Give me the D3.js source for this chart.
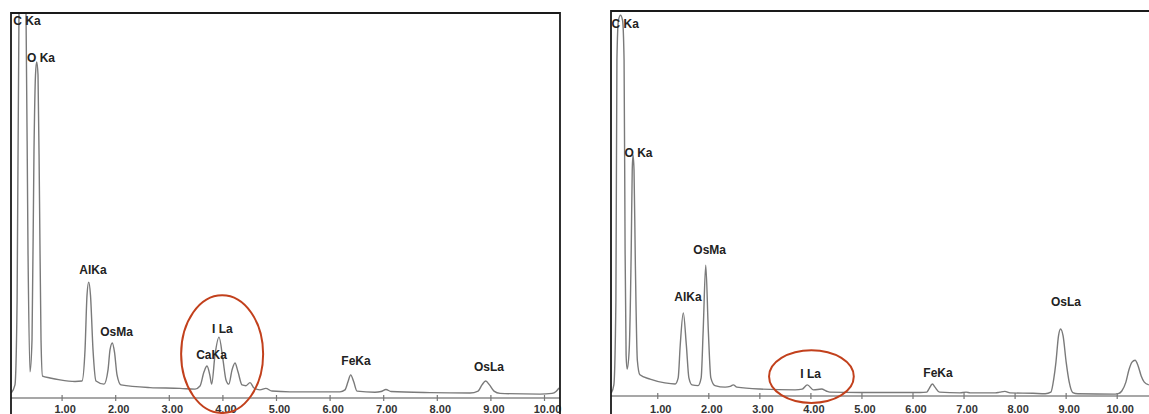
<!DOCTYPE html>
<html>
<head>
<meta charset="utf-8">
<script src="https://cdn.jsdelivr.net/npm/d3@7"></script>
<style>
  body { margin: 0; background: #fff; }
  svg { display: block; font-family: "Liberation Sans", Arial, sans-serif; }
</style>
</head>
<body>
<svg id="chart" width="1149" height="414"></svg>
<script>
// energy axis ticks (keV)
var tickValues = [1, 2, 3, 4, 5, 6, 7, 8, 9, 10];

// left spectrum (keV / counts, frame top = 1000)
var leftEnergy = [0.06, 0.13, 0.17, 0.205, 0.27, 0.336, 0.373, 0.41, 0.448, 0.485, 0.513, 0.535, 0.56, 0.588, 0.616, 0.644,
  0.784, 0.97, 1.25, 1.38, 1.437, 1.474, 1.506, 1.539, 1.586, 1.642, 1.791, 1.866, 1.903, 1.946, 1.987, 2.034, 2.108,
  2.649, 3.209, 3.489, 3.582, 3.657, 3.713, 3.769, 3.80, 3.862, 3.937, 4.011, 4.067, 4.12, 4.18, 4.235, 4.291, 4.366,
  4.44, 4.515, 4.59, 4.70, 4.81, 4.925, 5.26, 6.194, 6.287, 6.343, 6.393, 6.45, 6.511, 6.847, 6.96, 7.052, 7.146,
  7.873, 8.62, 8.77, 8.843, 8.912, 8.983, 9.067, 9.18, 9.925, 10.15, 10.224, 10.28];
var leftCounts = [13, 34, 255, 1000, 1241, 1000, 384, 68, 151, 644, 839, 873, 839, 514, 151, 57,
  52, 47, 43, 44, 125, 267, 301, 267, 125, 44, 36, 73, 125, 143, 119, 60, 34,
  27, 25, 23, 31, 68, 83, 57, 36, 112, 158, 99, 47, 36, 73, 91, 68, 34,
  32, 40, 26, 21, 25, 18, 16, 16, 21, 42, 60, 42, 18, 15, 17, 22, 17,
  14, 13, 18, 34, 44, 34, 18, 12, 10, 12, 17, 26];

// right spectrum
var rightEnergy = [0.10, 0.15, 0.19, 0.21, 0.24, 0.28, 0.32, 0.35, 0.37, 0.39, 0.41, 0.45, 0.49, 0.51, 0.525, 0.545,
  0.57, 0.61, 0.66, 0.86, 1.15, 1.35, 1.41, 1.45, 1.51, 1.57, 1.62, 1.68, 1.80, 1.86, 1.90, 1.95, 2.00, 2.05, 2.13,
  2.33, 2.43, 2.49, 2.56, 3.01, 3.70, 3.84, 3.94, 4.06, 4.22, 4.31, 4.38, 4.97, 6.15, 6.28, 6.32, 6.39, 6.44, 6.53,
  6.93, 7.05, 7.13, 7.62, 7.71, 7.81, 7.91, 8.36, 8.60, 8.71, 8.77, 8.81, 8.86, 8.90, 8.95, 9.01, 9.07, 9.14, 9.24,
  9.97, 10.03, 10.10, 10.18, 10.24, 10.30, 10.36, 10.42, 10.48, 10.54, 10.63];
var rightCounts = [8, 29, 249, 873, 976, 989, 976, 873, 379, 106, 70, 119, 379, 587, 626, 587,
  353, 93, 55, 44, 34, 31, 47, 132, 216, 132, 47, 29, 27, 47, 171, 340, 171, 47, 27,
  23, 25, 29, 23, 18, 16, 18, 29, 16, 18, 13, 10, 9, 9, 10, 18, 31, 23, 10,
  8, 10, 8, 8, 10, 12, 8, 7, 6, 10, 47, 88, 156, 174, 156, 88, 36, 9, 6,
  5, 6, 13, 36, 68, 88, 93, 78, 52, 36, 29];

// peak labels: name, anchor energy, anchor counts (text baseline)
var leftLabels = ["C Ka", "O Ka", "AlKa", "OsMa", "I La", "CaKa", "FeKa", "OsLa"];
var leftLabelE = [0.354, 0.616, 1.586, 2.024, 4.00, 3.797, 6.493, 8.974];
var leftLabelC = [969, 873, 322, 161, 169, 101, 86, 71];

var rightLabels = ["C Ka", "O Ka", "AlKa", "OsMa", "I La", "FeKa", "OsLa"];
var rightLabelE = [0.374, 0.633, 1.602, 2.027, 4.006, 6.50, 9.007];
var rightLabelC = [956, 621, 247, 369, 48, 50, 234];

// highlighted region: [Emin, Emax, countMin, countMax]
var leftCircle = [3.23, 4.76, -39, 267];
var rightCircle = [3.19, 4.85, -18, 119];

var svg = d3.select("#chart");

function panel(opt) {
  var x = d3.scaleLinear().domain([0, 10]).range(opt.xRange);
  var y = d3.scaleLinear().domain([0, 1000]).range([opt.axisY, opt.top]);
  var g = svg.append("g");

  var clipId = "clip" + opt.id;
  svg.append("clipPath").attr("id", clipId)
    .append("rect")
    .attr("x", opt.left).attr("y", opt.top)
    .attr("width", opt.right - opt.left).attr("height", opt.axisY - opt.top);

  // axis line
  g.append("line")
    .attr("x1", opt.left).attr("x2", opt.right)
    .attr("y1", opt.axisY).attr("y2", opt.axisY)
    .attr("stroke", "#8a8a8a").attr("stroke-width", 1.6);

  // ticks and labels
  var axis = d3.axisBottom(x).tickValues(tickValues).tickSize(6).tickFormat(d3.format(".2f"));
  var ax = g.append("g")
    .attr("transform", "translate(0," + (opt.axisY - 3) + ")")
    .call(axis);
  ax.select(".domain").remove();
  ax.selectAll(".tick line").attr("stroke", "#777").attr("stroke-width", 1.2);
  ax.selectAll(".tick text")
    .attr("y", 0).attr("dy", 0)
    .attr("transform", "translate(3," + (413 - (opt.axisY - 3)) + ")")
    .attr("fill", "#333")
    .style("font-size", "11px")
    .style("font-weight", "bold")
    .style("font-family", "'Liberation Sans', Arial, sans-serif");

  // spectrum
  var data = d3.zip(opt.energy, opt.counts);
  var line = d3.line()
    .x(function(d) { return x(d[0]); })
    .y(function(d) { return y(d[1]); })
    .curve(d3.curveMonotoneX);
  g.append("path")
    .datum(data)
    .attr("clip-path", "url(#" + clipId + ")")
    .attr("d", line)
    .attr("fill", "none")
    .attr("stroke", "#7a7a7a")
    .attr("stroke-width", 1.4);

  // frame (left, top, right)
  var frame = "M" + opt.left + "," + 414 + "V" + opt.top + "H" + opt.right + (opt.closeRight ? "V414" : "");
  g.append("path")
    .attr("d", frame)
    .attr("fill", "none")
    .attr("stroke", "#1a1a1a")
    .attr("stroke-width", 1.8);

  // peak labels
  g.selectAll("text.peak")
    .data(opt.labels)
    .enter()
    .append("text")
    .attr("class", "peak")
    .attr("x", function(d, i) { return x(opt.labelE[i]); })
    .attr("y", function(d, i) { return y(opt.labelC[i]); })
    .attr("text-anchor", "middle")
    .attr("fill", "#222")
    .style("font-size", "12px")
    .style("font-weight", "bold")
    .text(function(d) { return d; });

  // red ellipse around the iodine region
  var c = opt.circle;
  g.append("ellipse")
    .attr("cx", (x(c[0]) + x(c[1])) / 2)
    .attr("cy", (y(c[2]) + y(c[3])) / 2)
    .attr("rx", (x(c[1]) - x(c[0])) / 2)
    .attr("ry", (y(c[2]) - y(c[3])) / 2)
    .attr("fill", "none")
    .attr("stroke", "#c2401c")
    .attr("stroke-width", 2);
}

panel({
  id: "L", xRange: [8, 544], axisY: 398, top: 13, left: 11, right: 560, closeRight: true,
  energy: leftEnergy, counts: leftCounts,
  labels: leftLabels, labelE: leftLabelE, labelC: leftLabelC, circle: leftCircle
});

panel({
  id: "R", xRange: [606.2, 1116.7], axisY: 396, top: 11, left: 611, right: 1152, closeRight: false,
  energy: rightEnergy, counts: rightCounts,
  labels: rightLabels, labelE: rightLabelE, labelC: rightLabelC, circle: rightCircle
});
</script>
</body>
</html>
